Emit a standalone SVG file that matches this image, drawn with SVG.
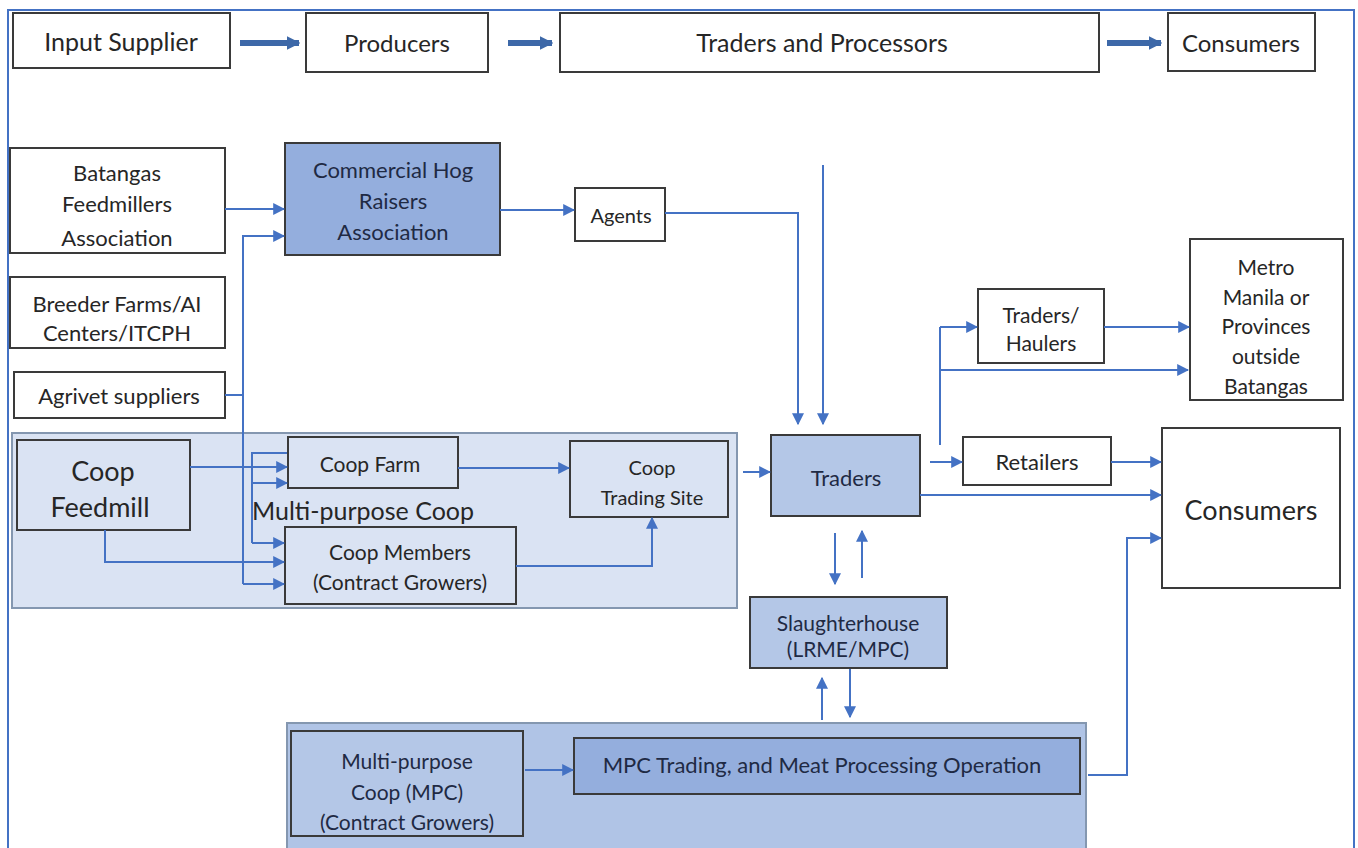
<svg xmlns="http://www.w3.org/2000/svg" width="1358" height="848" viewBox="0 0 1358 848">
  <style>
    .box { fill: #ffffff; stroke: #3a3a3a; stroke-width: 2; }
    .mid { fill: #94AEDD; stroke: #3a3a3a; stroke-width: 2; }
    .pale { fill: #B4C7E7; stroke: #3a3a3a; stroke-width: 2; }
    .coop { fill: #DAE3F3; stroke: #3a3a3a; stroke-width: 2; }
    .grp1 { fill: #DAE3F3; stroke: #8497B0; stroke-width: 2; }
    .grp2 { fill: #B0C4E6; stroke: #8497B0; stroke-width: 2; }
    .t { font-family: Lato, "Liberation Sans", sans-serif; fill: #262626; text-anchor: middle; dominant-baseline: central; }
    .tb { font-family: Lato, "Liberation Sans", sans-serif; fill: #1F2A44; text-anchor: middle; dominant-baseline: central; }
    .s18 { font-size: 18px; }
    .s20 { font-size: 20px; }
    .s21 { font-size: 21px; }
    .s22 { font-size: 22px; }
    .s24 { font-size: 24px; }
    .s25 { font-size: 25px; }
    .s27 { font-size: 27px; }
    .ln { fill: none; stroke: #4472C4; stroke-width: 2; marker-end: url(#ah); }
    .lp { fill: none; stroke: #4472C4; stroke-width: 2; }
    .big { fill: none; stroke: #3D68A8; stroke-width: 6; marker-end: url(#ahb); }
  </style>
  <defs>
    <marker id="ah" viewBox="0 0 10 10" refX="9" refY="5" markerWidth="6" markerHeight="6" orient="auto" markerUnits="strokeWidth">
      <path d="M0,0 L10,5 L0,10 z" fill="#4472C4"/>
    </marker>
    <marker id="ahb" viewBox="0 0 10 10" refX="9" refY="5" markerWidth="2.3" markerHeight="2.6" orient="auto" markerUnits="strokeWidth">
      <path d="M0,0 L10,5 L0,10 z" fill="#3D68A8"/>
    </marker>
    <clipPath id="clipBat"><rect x="10" y="148" width="215" height="105"/></clipPath>
  </defs>

  <rect width="1358" height="848" fill="#ffffff"/>
  <!-- outer frame (open at the bottom) -->
  <path d="M8,848 V10 H1354 V848" fill="none" stroke="#4472C4" stroke-width="2"/>

  <!-- top value-chain row -->
  <g id="top-input"><rect class="box" x="13" y="13" width="217" height="55"/><text class="t s25" x="121" y="41">Input Supplier</text></g>
  <g id="top-producers"><rect class="box" x="306" y="13" width="182" height="59"/><text class="t s24" x="397" y="42">Producers</text></g>
  <g id="top-traders"><rect class="box" x="560" y="13" width="539" height="59"/><text class="t s25" x="822" y="42">Traders and Processors</text></g>
  <g id="top-consumers"><rect class="box" x="1168" y="13" width="147" height="58"/><text class="t s24" x="1241" y="42">Consumers</text></g>

  <!-- group backgrounds -->
  <g id="multi-purpose-coop">
    <rect class="grp1" x="12" y="433" width="725" height="175"/>
    <text class="t s25" x="363" y="510">Multi-purpose Coop</text>
  </g>
  <g id="mpc-group"><rect class="grp2" x="287" y="723" width="799" height="130"/></g>

  <!-- input suppliers -->
  <g id="batangas"><rect class="box" x="10" y="148" width="215" height="105"/>
    <g clip-path="url(#clipBat)">
    <text class="t s22" x="117" y="172">Batangas</text><text class="t s22" x="117" y="203">Feedmillers</text><text class="t s22" x="117" y="237">Association</text></g></g>
  <g id="breeder"><rect class="box" x="10" y="277" width="215" height="71"/>
    <text class="t s22" x="117" y="303">Breeder Farms/AI</text><text class="t s22" x="117" y="332">Centers/ITCPH</text></g>
  <g id="agrivet"><rect class="box" x="14" y="372" width="211" height="46"/>
    <text class="t s22" x="119" y="395">Agrivet suppliers</text></g>

  <!-- producers -->
  <g id="chra"><rect class="mid" x="285" y="143" width="215" height="112"/>
    <text class="tb s22" x="393" y="169">Commercial Hog</text><text class="tb s22" x="393" y="200">Raisers</text><text class="tb s22" x="393" y="231">Association</text></g>
  <g id="agents"><rect class="box" x="575" y="188" width="90" height="53"/><text class="t s20" x="621" y="215">Agents</text></g>

  <g id="coop-feedmill"><rect class="coop" x="17" y="440" width="173" height="90"/>
    <text class="t s27" x="103" y="470">Coop</text><text class="t s27" x="100" y="506">Feedmill</text></g>
  <g id="coop-farm"><rect class="coop" x="288" y="437" width="170" height="51"/><text class="t s21" x="370" y="463">Coop Farm</text></g>
  <g id="coop-members"><rect class="coop" x="285" y="527" width="231" height="77"/>
    <text class="t s21" x="400" y="551">Coop Members</text><text class="t s21" x="400" y="581">(Contract Growers)</text></g>
  <g id="coop-trading"><rect class="coop" x="570" y="441" width="158" height="76"/>
    <text class="t s20" x="652" y="467">Coop</text><text class="t s20" x="652" y="497">Trading Site</text></g>

  <!-- traders and processors -->
  <g id="traders"><rect class="pale" x="771" y="435" width="149" height="81"/><text class="tb s22" x="846" y="477">Traders</text></g>
  <g id="slaughterhouse"><rect class="pale" x="750" y="597" width="197" height="71"/>
    <text class="tb s21" x="848" y="622">Slaughterhouse</text><text class="tb s21" x="848" y="648">(LRME/MPC)</text></g>
  <g id="mpc-growers"><rect class="pale" x="291" y="731" width="232" height="105"/>
    <text class="tb s21" x="407" y="760">Multi-purpose</text><text class="tb s21" x="407" y="791">Coop (MPC)</text><text class="tb s21" x="407" y="821">(Contract Growers)</text></g>
  <g id="mpc-processing"><rect class="mid" x="574" y="738" width="506" height="56"/>
    <text class="tb s22" x="822" y="764">MPC Trading, and Meat Processing Operation</text></g>
  <g id="haulers"><rect class="box" x="978" y="289" width="126" height="74"/>
    <text class="t s21" x="1041" y="314">Traders/</text><text class="t s21" x="1041" y="342">Haulers</text></g>
  <g id="retailers"><rect class="box" x="963" y="437" width="148" height="48"/><text class="t s22" x="1037" y="461">Retailers</text></g>

  <!-- consumers -->
  <g id="metro"><rect class="box" x="1190" y="239" width="153" height="161"/>
    <text class="t s21" x="1266" y="266">Metro</text><text class="t s21" x="1266" y="296">Manila or</text><text class="t s21" x="1266" y="325">Provinces</text><text class="t s21" x="1266" y="355">outside</text><text class="t s21" x="1266" y="385">Batangas</text></g>
  <g id="consumers"><rect class="box" x="1162" y="428" width="178" height="160"/><text class="t s27" x="1251" y="509">Consumers</text></g>

  <g id="connectors">
    <!-- top row flow -->
    <path class="big" d="M240,43 H299"/>
    <path class="big" d="M508,43 H552"/>
    <path class="big" d="M1107,43 H1161"/>
    <!-- inputs to producers -->
    <path class="ln" d="M225,209 H284"/>
    <path class="ln" d="M243,584 V236 H284"/>
    <path class="lp" d="M225,395 H243"/>
    <path class="ln" d="M243,584 H284"/>
    <path class="ln" d="M500,210 H574"/>
    <path class="ln" d="M665,213 H798 V424"/>
    <path class="ln" d="M823,165 V424"/>
    <!-- coop flows -->
    <path class="ln" d="M190,467 H287"/>
    <path class="lp" d="M287,453 H252 V543"/>
    <path class="ln" d="M252,483 H287"/>
    <path class="ln" d="M252,543 H284"/>
    <path class="ln" d="M105,530 V562 H284"/>
    <path class="ln" d="M458,468 H569"/>
    <path class="ln" d="M516,566 H652 V518"/>
    <path class="ln" d="M743,472 H770"/>
    <!-- traders outward -->
    <path class="ln" d="M930,462 H962"/>
    <path class="lp" d="M940,445 V327"/>
    <path class="ln" d="M940,327 H977"/>
    <path class="ln" d="M940,370 H1188"/>
    <path class="ln" d="M1104,327 H1189"/>
    <path class="ln" d="M1111,462 H1161"/>
    <path class="ln" d="M920,495 H1161"/>
    <!-- slaughterhouse exchanges -->
    <path class="ln" d="M835,533 V584"/>
    <path class="ln" d="M862,578 V531"/>
    <path class="ln" d="M822,720 V678"/>
    <path class="ln" d="M850,669 V717"/>
    <!-- MPC flows -->
    <path class="ln" d="M525,770 H573"/>
    <path class="ln" d="M1088,775 H1127 V538 H1161"/>
  </g>
</svg>
